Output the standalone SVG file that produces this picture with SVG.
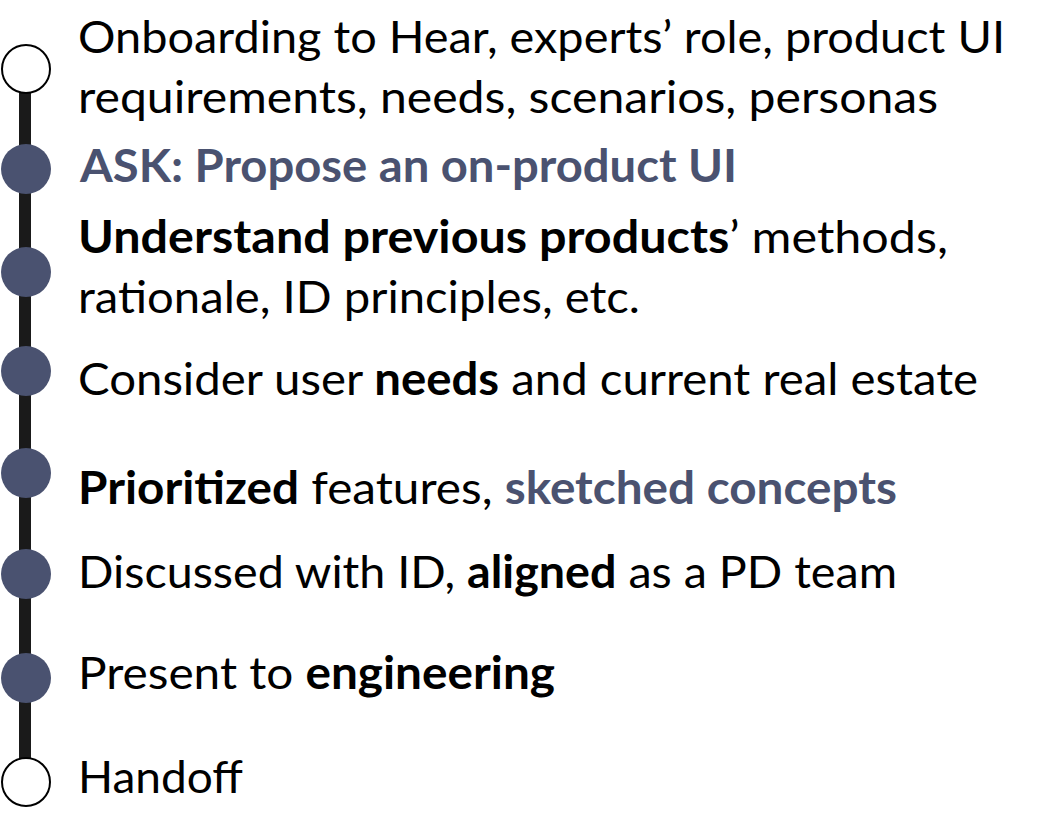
<svg xmlns="http://www.w3.org/2000/svg" width="1051" height="831" viewBox="0 0 1051 831">
<style>
  text { font-family: Lato, "Source Sans Pro", "Noto Sans", sans-serif; font-size: 45px; fill: #000; }
  .b { font-weight: 700; }
  .acc { fill: #4a5270; font-weight: 700; }
  .dot { fill: #4a5270; }
  .open { fill: #fff; stroke: #000; stroke-width: 2; }
  .spine { stroke: #1a1a1a; stroke-width: 12; }
</style>
<rect width="1051" height="831" fill="#fff"/>
<g id="connectors">
  <line class="spine" x1="25" y1="92" x2="25" y2="760"/>
</g>
<g id="n1">
  <circle class="open" cx="26" cy="69" r="24"/>
  <text x="78" y="53" textLength="927" lengthAdjust="spacingAndGlyphs">Onboarding to Hear, experts’ role, product UI</text>
  <text x="78" y="113" textLength="860" lengthAdjust="spacingAndGlyphs">requirements, needs, scenarios, personas</text>
</g>
<g id="n2">
  <circle class="dot" cx="26" cy="169" r="25"/>
  <text x="80" y="182" class="acc" textLength="657" lengthAdjust="spacingAndGlyphs">ASK: Propose an on-product UI</text>
</g>
<g id="n3">
  <circle class="dot" cx="26" cy="272" r="25"/>
  <text x="78" y="253" textLength="870" lengthAdjust="spacingAndGlyphs"><tspan class="b">Understand previous products</tspan>’ methods,</text>
  <text x="78" y="313" textLength="562" lengthAdjust="spacingAndGlyphs">rationale, ID principles, etc.</text>
</g>
<g id="n4">
  <circle class="dot" cx="26" cy="371" r="25"/>
  <text x="78" y="395" textLength="900" lengthAdjust="spacingAndGlyphs">Consider user <tspan class="b">needs</tspan> and current real estate</text>
</g>
<g id="n5">
  <circle class="dot" cx="26" cy="473" r="25"/>
  <text x="78" y="504" textLength="819" lengthAdjust="spacingAndGlyphs"><tspan class="b">Prioritized</tspan> features, <tspan class="acc">sketched concepts</tspan></text>
</g>
<g id="n6">
  <circle class="dot" cx="26" cy="574" r="25"/>
  <text x="78" y="588" textLength="819" lengthAdjust="spacingAndGlyphs">Discussed with ID, <tspan class="b">aligned</tspan> as a PD team</text>
</g>
<g id="n7">
  <circle class="dot" cx="26" cy="678" r="25"/>
  <text x="78" y="689" textLength="477" lengthAdjust="spacingAndGlyphs">Present to <tspan class="b">engineering</tspan></text>
</g>
<g id="n8">
  <circle class="open" cx="26" cy="782" r="24"/>
  <text x="78" y="793" textLength="165" lengthAdjust="spacingAndGlyphs">Handoff</text>
</g>
</svg>
